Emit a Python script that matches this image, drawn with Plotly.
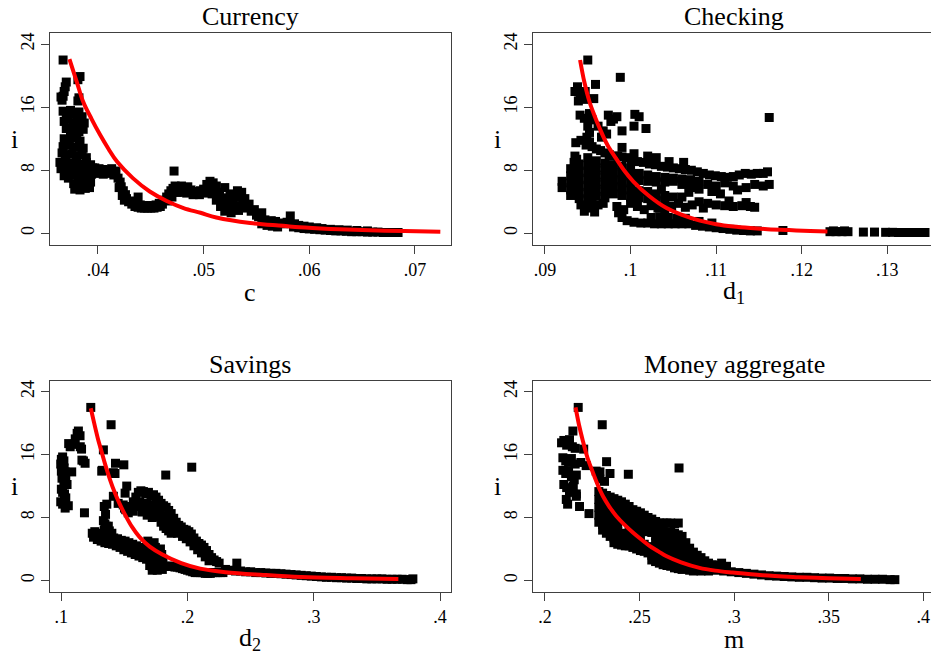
import plotly.graph_objects as go

# ---------------- data ----------------
# Currency panel: (c, i)
cur_pts = [
    (.0367,22.0),(.0383,19.9),(.0381,19.5),
    (.0370,19.2),(.0369,18.6),(.0368,18.0),(.0367,17.4),(.0366,16.9),(.0365,17.3),
    (.0381,16.8),(.0382,17.2),
    (.0367,15.5),(.0370,15.0),(.0374,15.6),(.0378,15.2),(.0382,15.4),(.0385,14.8),
    (.0368,14.2),(.0372,14.5),(.0376,14.0),(.0380,14.3),(.0384,13.8),(.0387,14.0),
    (.0370,13.3),(.0374,13.0),(.0378,13.5),(.0382,12.9),(.0386,13.2),(.0375,12.6),(.0380,12.4),
    (.0368,12.0),(.0373,11.8),(.0378,12.1),(.0383,11.7),
    (.0367,11.0),(.0372,11.2),(.0377,10.9),(.0382,11.1),(.0386,10.8),
    (.0366,10.2),(.0370,9.9),(.0375,10.1),(.0380,9.8),(.0385,10.0),(.0389,9.6),
    (.0364,9.0),(.0369,9.2),(.0374,8.9),(.0379,9.1),(.0384,8.8),(.0389,9.0),(.0393,8.7),
    (.0365,8.2),(.0369,8.5),(.0373,7.9),(.0378,8.1),(.0383,7.8),(.0387,8.2),(.0392,7.9),(.0395,8.3),
    (.0368,7.3),(.0372,7.0),(.0376,7.4),(.0381,7.1),(.0386,7.2),(.0391,7.0),(.0394,7.5),
    (.0377,6.3),(.0381,6.0),(.0385,6.4),(.0389,6.1),(.0393,6.5),
    (.0378,5.6),(.0383,5.5),(.0388,5.7),(.0392,5.8),
    (.0397,8.3),(.0401,8.2),(.0405,8.1),(.0409,8.0),(.0413,8.2),(.0417,7.9),(.0400,7.6),(.0405,7.5),(.0410,7.6),(.0415,7.4),
    (.0419,7.0),(.0421,6.5),(.0422,5.9),(.0424,5.4),(.0426,4.9),(.0427,4.4),(.0429,4.0),(.0423,4.8),(.0425,4.2),(.0420,5.8),
    (.0432,3.7),(.0435,3.4),(.0438,3.3),(.0441,3.2),(.0444,3.2),(.0447,3.2),(.0450,3.2),(.0453,3.2),(.0456,3.3),(.0459,3.4),
    (.0431,4.1),(.0434,3.9),(.0437,3.8),(.0440,3.6),(.0443,3.5),(.0446,3.5),(.0449,3.5),(.0452,3.5),(.0455,3.6),(.0458,3.8),(.0438,4.6),
    (.0461,3.7),(.0463,4.2),(.0465,4.6),(.0467,5.0),(.0469,5.4),(.0471,5.7),(.0472,7.9),(.0470,4.6),(.0466,4.1),(.0473,6.0),
    (.0476,5.8),(.0479,6.0),(.0482,5.7),(.0485,5.9),(.0488,5.5),(.0491,5.3),(.0494,5.2),(.0497,5.4),(.0500,5.6),
    (.0478,5.2),(.0484,5.1),(.0490,4.9),(.0496,4.9),(.0475,5.2),
    (.0503,6.2),(.0506,6.6),(.0509,6.4),(.0512,6.0),(.0504,5.6),(.0508,5.0),(.0511,5.4),(.0502,5.1),
    (.0515,5.2),(.0518,4.5),(.0520,5.8),(.0522,4.0),(.0524,3.3),(.0525,5.0),(.0528,4.2),(.0530,3.5),(.0532,5.4),
    (.0534,4.6),(.0536,5.2),(.0537,3.8),(.0539,4.4),(.0541,3.2),(.0520,2.8),(.0526,2.6),(.0533,2.9),(.0543,3.7),
    (.0545,2.8),(.0548,3.0),(.0550,2.3),(.0552,2.1),(.0555,2.6),(.0558,1.7),(.0561,1.3),(.0516,3.4),(.0512,4.2),
    (.0529,4.9),(.0535,3.3),
    (.0564,1.6),(.0568,1.5),(.0572,1.3),(.0576,1.2),(.0579,1.4),(.0555,1.2),(.0560,1.0),(.0565,0.9),(.0570,0.8),
    (.0582,2.2),(.0586,1.2),(.0590,1.0),
    (.0585,0.8),(.0590,0.7),(.0595,0.6),(.0600,0.55),(.0605,0.5),(.0610,0.45),(.0615,0.4),(.0620,0.35),(.0625,0.3),
    (.0630,0.3),(.0635,0.25),(.0640,0.2),(.0645,0.2),(.0650,0.2),(.0655,0.15),(.0660,0.15),(.0665,0.15),(.0670,0.1),
    (.0675,0.1),(.0680,0.1),(.0684,0.1),(.0595,0.9),(.0600,0.8),(.0607,0.7),(.0612,0.6),(.0620,0.5),(.0628,0.45),
    (.0636,0.4),(.0645,0.35),(.0655,0.3),
]
cur_fit_c = [.0373,.0380,.0386,.0394,.0402,.0410,.0418,.0433,.0449,.0465,.0481,.0497,.0512,.0544,.0575,.0591,.0620,.0650,.0690,.0724]
cur_fit_i = [22.1,19.2,16.7,14.5,12.5,10.7,9.1,7.0,5.3,4.1,3.2,2.6,2.0,1.3,0.95,0.76,0.55,0.4,0.28,0.2]

# Checking panel: (d1, i)
chk_pts = [
    (.0950,22.0),(.0988,19.8),(.0959,18.9),
    (.0935,18.0),(.0938,18.6),(.0941,17.5),(.0945,17.0),(.0939,16.8),(.0947,18.0),(.0957,17.1),
    (.0941,15.0),(.0946,14.6),(.0952,15.2),(.0955,14.4),
    (.0974,15.0),(.0980,14.5),(.0984,14.8),(.0977,14.2),
    (.1005,15.1),(.1010,14.8),(.1004,13.6),(.1018,13.3),
    (.0950,13.6),(.0952,12.8),(.0949,12.2),
    (.0936,11.5),(.0942,11.8),(.0948,11.2),(.0952,11.6),
    (.0935,9.8),(.0934,9.0),(.0937,9.4),
    (.0962,13.6),(.0968,13.0),(.0990,13.0),(.0966,12.2),(.0972,12.6),
    (.0955,11.0),(.0960,10.7),(.0965,10.5),(.0970,10.2),(.0975,10.0),(.0980,9.8),(.0985,9.8),(.0990,9.7),
    (.0995,9.6),(.1001,9.3),(.1008,9.1),(.1015,9.0),(.1022,8.8),(.1029,8.7),(.1036,8.5),(.1043,8.4),(.1050,8.3),
    (.1057,8.2),(.1064,8.1),(.1071,8.0),(.1078,7.8),(.1085,7.6),(.1092,7.4),(.1099,7.3),(.1106,7.2),(.1113,7.1),
    (.1120,7.2),(.1127,7.4),(.1134,7.6),(.1141,7.5),(.1148,7.6),(.1155,7.6),(.1160,7.8),(.1162,14.7),
    (.0990,10.9),(.1004,10.1),(.1020,9.8),(.1030,9.6),(.1045,9.1),(.1062,9.0),
    (.0920,6.6),(.0920,5.8),
    (.0930,8.2),(.0930,7.3),(.0930,6.4),(.0930,5.5),(.0930,4.8),
    (.0940,8.8),(.0940,7.9),(.0940,7.0),(.0940,6.1),(.0940,5.2),(.0940,4.4),
    (.0950,9.6),(.0950,8.6),(.0950,7.7),(.0950,6.8),(.0950,5.9),(.0950,5.0),(.0950,4.2),
    (.0960,9.2),(.0960,8.3),(.0960,7.4),(.0960,6.5),(.0960,5.6),(.0960,4.7),
    (.0970,8.9),(.0970,8.0),(.0970,7.1),(.0970,6.2),(.0970,5.3),(.0970,4.5),
    (.0980,8.7),(.0980,7.7),(.0980,6.8),(.0980,5.9),(.0980,5.0),
    (.0990,8.5),(.0990,7.5),(.0990,6.6),(.0990,5.7),(.0990,4.8),
    (.1000,8.3),(.1000,7.3),(.1000,6.4),(.1000,5.5),(.1000,4.6),
    (.1010,7.6),(.1010,6.7),(.1010,5.4),(.1010,4.5),
    (.1020,7.4),(.1030,7.2),(.1040,7.1),(.1050,7.0),(.1060,6.9),(.1070,6.8),
    (.1020,6.6),(.1030,6.5),(.1040,6.5),(.1050,6.6),(.1060,6.2),(.1070,6.0),
    (.1020,5.3),(.1030,5.0),(.1040,4.8),(.1020,4.4),(.1030,4.2),(.1040,4.0),
    (.1050,4.6),(.1060,4.6),(.1068,5.2),(.1070,5.8),(.1036,5.6),
    (.1080,6.6),(.1090,6.2),(.1100,6.0),(.1110,6.4),(.1120,6.0),(.1080,5.6),(.1095,5.3),(.1105,5.0),(.1125,5.5),
    (.1135,5.8),(.1145,6.2),(.1155,6.0),(.1162,6.2),
    (.1080,4.0),(.1090,3.8),(.1100,3.6),(.1110,3.5),(.1120,3.4),(.1130,3.5),(.1140,3.4),(.1085,3.2),(.1115,4.1),
    (.1135,3.9),(.1145,3.3),
    (.0942,3.6),(.0946,2.8),(.0952,3.2),(.0958,2.7),(.0962,3.6),(.0968,3.8),(.0955,3.9),
    (.1000,3.8),(.1008,3.4),(.1016,3.0),(.1024,3.5),(.1032,3.2),(.1040,3.0),(.1048,3.4),(.1056,3.8),(.1064,3.3),(.1072,3.6),
    (.0984,3.4),(.0986,2.6),(.0990,2.0),(.0996,1.6),(.1004,1.4),(.1012,1.3),(.0992,3.0),
    (.1020,1.3),(.1028,1.2),(.1036,1.2),(.1044,1.2),(.1052,1.2),(.1060,1.2),(.1068,1.2),(.1024,2.0),(.1034,2.1),
    (.1044,2.0),(.1054,1.9),(.1064,1.9),
    (.1076,1.0),(.1084,0.9),(.1092,0.8),(.1100,0.7),(.1108,0.6),(.1116,0.5),(.1080,1.5),(.1095,1.3),
    (.1124,0.4),(.1132,0.35),(.1140,0.3),(.1148,0.3),(.1178,0.35),
    (.1233,0.2),(.1240,0.2),(.1247,0.2),(.1254,0.2),(.1272,0.15),(.1285,0.15),(.1298,0.12),(.1306,0.12),
    (.1313,0.1),(.1321,0.1),(.1328,0.1),(.1336,0.1),(.1344,0.1),(.1237,0.3),(.1250,0.3),
]
chk_fit_d1 = [.0941,.0946,.0952,.0958,.0964,.0973,.0983,.0993,.1003,.1022,.1042,.1061,.1081,.1100,.1120,.1140,.1160,.1185,.1210,.1230]
chk_fit_i = [22.0,19.2,16.7,14.9,13.3,11.2,9.5,7.9,6.6,4.7,3.2,2.3,1.6,1.15,0.85,0.66,0.52,0.4,0.3,0.22]

# Savings panel: (d2, i)
sav_pts = [
    (.1233,22.0),(.1394,19.8),
    (.1135,19.0),(.1125,18.7),(.1148,18.4),(.1110,18.0),(.1090,17.3),(.1070,17.0),(.1058,17.4),(.1150,17.0),
    (.1160,16.7),(.1163,15.3),(.1188,14.9),(.1175,15.2),
    (.1000,15.4),(.1010,15.7),(.1020,15.2),(.0995,14.8),(.1008,14.5),(.1022,14.3),(.1000,13.9),(.1015,13.6),
    (.1030,13.8),(.1005,13.0),(.1020,12.7),(.1035,13.0),(.1045,12.2),(.1000,11.6),(.1010,11.2),(.1025,11.0),
    (.1035,10.5),(.0995,10.0),(.1010,9.7),(.1030,9.2),(.1055,9.5),(.1082,13.8),(.1183,8.6),
    (.1333,7.6),(.1345,7.2),(.1355,6.9),(.1340,9.4),(.1360,9.7),(.1350,8.4),
    (.1505,11.1),(.1425,13.6),(.1429,14.9),(.1495,14.7),(.1333,16.6),(.1325,14.0),(.2033,14.4),(.1827,13.4),
    (.1320,13.9),(.1412,13.7),(.1518,12.0),(.1412,10.7),(.1450,9.8),(.1500,9.2),(.1372,6.9),
    (.1245,6.0),(.1255,5.5),(.1265,6.2),(.1275,5.7),(.1285,5.2),(.1295,6.0),(.1305,5.5),(.1315,5.0),(.1325,5.8),
    (.1335,5.3),(.1345,4.8),(.1355,5.7),(.1365,5.2),(.1375,4.7),(.1385,5.6),(.1395,5.0),(.1405,4.6),(.1415,5.4),
    (.1425,4.9),(.1435,4.4),(.1445,5.3),(.1455,4.8),(.1465,4.2),(.1475,5.1),(.1485,4.5),(.1495,3.9),(.1340,6.4),
    (.1360,6.6),(.1380,6.3),(.1400,6.0),
    (.1505,5.0),(.1515,4.3),(.1525,3.7),(.1535,4.8),(.1545,4.1),(.1555,3.5),(.1565,4.6),(.1575,3.9),(.1585,3.3),
    (.1595,4.4),(.1605,3.7),(.1615,3.1),(.1625,4.2),(.1635,3.5),(.1645,2.9),(.1655,4.0),(.1665,3.3),(.1675,2.7),
    (.1685,5.0),(.1695,4.5),(.1705,3.9),(.1715,3.2),(.1725,2.6),(.1735,4.8),(.1745,4.2),(.1755,3.6),(.1765,3.0),
    (.1775,2.4),(.1785,4.0),(.1795,3.3),(.1805,2.7),
    (.1700,1.9),(.1720,1.8),(.1740,1.8),(.1760,1.8),(.1780,1.8),(.1800,1.8),(.1820,1.8),(.1840,1.8),(.1860,1.8),
    (.1880,1.8),(.1900,1.7),(.1920,1.7),(.1940,1.6),(.1960,1.5),(.1980,1.4),(.2000,1.3),(.2020,1.2),(.2040,1.1),
    (.2060,1.0),(.2080,1.0),(.2100,1.0),(.2120,1.0),(.2140,0.9),(.2160,0.9),(.2180,0.9),(.2200,1.0),(.2220,1.0),
    (.2240,1.0),(.2260,1.0),(.2280,1.0),(.1720,1.3),(.1760,1.3),(.1800,1.4),
    (.1490,9.6),(.1510,9.0),(.1530,8.6),(.1550,9.4),(.1570,10.0),(.1590,10.6),(.1610,11.2),(.1630,11.4),(.1650,11.3),
    (.1670,11.0),(.1690,11.2),(.1710,10.8),(.1730,10.9),(.1750,10.6),(.1770,10.2),(.1790,9.8),(.1810,9.5),
    (.1830,9.3),(.1850,8.9),(.1870,8.5),(.1890,7.9),(.1910,7.4),(.1930,7.0),(.1950,6.8),(.1970,6.5),(.1990,6.4),
    (.2010,6.2),(.2030,5.9),(.2050,5.4),(.2070,5.0),(.2090,4.7),(.2110,4.5),(.2130,4.2),(.2150,3.8),(.2170,3.3),
    (.2190,2.9),(.2210,2.6),(.2230,2.4),(.2250,2.2),(.2390,2.2),
    (.1620,10.0),(.1650,9.6),(.1680,9.8),(.1700,9.2),(.1720,9.6),(.1740,9.0),(.1760,9.3),(.1780,8.7),(.1800,8.2),
    (.1820,8.0),(.1840,7.6),(.1860,7.2),(.1880,6.8),(.1900,6.5),(.1920,6.0),(.1760,8.1),(.1790,7.4),(.1810,6.9),
    (.1830,6.6),(.1850,6.3),(.1870,6.0),(.1960,5.6),(.1990,5.3),(.2020,4.9),(.2050,4.4),(.2080,3.9),(.2110,3.5),
    (.2140,3.0),(.2170,2.5),(.1640,8.7),(.1680,8.3),(.1720,8.0),(.1600,9.4),(.1570,8.8),
    (.2300,1.4),(.2340,1.3),(.2380,1.2),(.2420,1.2),(.2460,1.1),(.2500,1.1),(.2540,1.0),(.2580,1.0),(.2620,0.95),
    (.2660,0.9),(.2700,0.9),(.2740,0.85),(.2780,0.8),(.2820,0.75),(.2860,0.7),(.2900,0.65),(.2940,0.6),(.2980,0.55),
    (.3020,0.5),(.3060,0.45),(.3100,0.4),(.3140,0.4),(.3180,0.35),(.3220,0.35),(.3260,0.3),(.3300,0.3),(.3340,0.25),
    (.3380,0.25),(.3420,0.2),(.3460,0.2),(.3500,0.2),(.3540,0.2),(.3580,0.15),(.3620,0.15),(.3660,0.15),(.3700,0.15),
    (.3740,0.1),(.3770,0.1),(.3785,0.2),
]
sav_fit_d2 = [.1233,.1260,.1290,.1320,.1350,.1386,.1420,.1460,.1500,.1560,.1620,.1700,.1800,.1950,.2100,.2300,.2600,.2900,.3300,.3670]
sav_fit_i = [21.9,20.0,18.0,16.3,14.6,12.8,11.3,9.8,8.5,6.8,5.5,4.3,3.3,2.2,1.5,1.05,0.7,0.43,0.28,0.18]

# Money aggregate panel: (m, i)
mon_pts = [
    (.2176,22.0),(.2303,19.8),(.2709,14.3),
    (.2148,19.0),(.2088,17.5),(.2100,17.8),(.2115,17.2),(.2130,17.9),(.2145,17.0),(.2160,16.8),(.2205,16.7),
    (.2095,15.6),(.2110,15.2),(.2125,15.0),(.2140,15.5),(.2160,14.8),(.2190,15.0),(.2218,14.6),
    (.2095,14.0),(.2110,13.6),(.2125,13.9),(.2140,13.2),(.2155,12.8),(.2166,13.4),
    (.2100,12.2),(.2115,11.8),(.2130,11.2),(.2150,12.0),(.2166,11.0),
    (.2113,10.3),(.2166,10.7),(.2183,9.4),(.2233,8.5),(.2120,9.7),
    (.2326,15.1),(.2344,13.6),(.2291,13.8),(.2441,13.5),(.2271,13.9),(.2290,12.9),(.2315,12.6),
    (.2285,11.3),(.2285,10.3),(.2285,9.3),(.2285,8.3),(.2285,7.4),
    (.2305,11.1),(.2305,10.1),(.2305,9.1),(.2305,8.1),(.2305,7.1),(.2305,6.4),
    (.2325,10.8),(.2325,9.8),(.2325,8.8),(.2325,7.8),(.2325,6.8),(.2325,6.0),
    (.2345,10.6),(.2345,9.6),(.2345,8.6),(.2345,7.6),(.2345,6.6),(.2345,5.6),
    (.2365,10.4),(.2365,9.4),(.2365,8.4),(.2365,7.4),(.2365,6.4),(.2365,5.4),(.2365,4.8),
    (.2385,10.2),(.2385,9.2),(.2385,8.2),(.2385,7.2),(.2385,6.2),(.2385,5.2),(.2385,4.6),
    (.2405,10.0),(.2405,9.0),(.2405,8.0),(.2405,6.0),(.2405,5.0),(.2405,4.5),
    (.2425,9.7),(.2425,8.7),(.2425,7.7),(.2425,5.9),(.2425,4.9),(.2425,4.4),
    (.2445,9.4),(.2445,8.4),(.2445,7.4),(.2445,6.4),(.2445,5.4),(.2445,4.4),
    (.2465,9.0),(.2465,8.0),(.2465,7.0),(.2465,6.0),(.2465,5.0),(.2465,4.2),
    (.2485,8.8),(.2485,7.8),(.2485,6.8),(.2485,5.8),(.2485,4.8),(.2485,4.0),
    (.2505,8.6),(.2505,7.6),(.2505,6.6),(.2505,5.6),(.2505,4.6),(.2505,3.8),
    (.2525,8.3),(.2525,7.3),(.2525,6.3),(.2525,4.6),(.2525,3.7),
    (.2545,8.0),(.2545,7.0),(.2545,6.2),(.2545,4.3),(.2545,3.5),
    (.2565,7.8),(.2565,6.9),(.2565,6.1),(.2565,4.2),(.2565,3.2),(.2565,2.6),
    (.2585,7.5),(.2585,6.6),(.2585,5.7),(.2585,4.8),(.2585,3.9),(.2585,3.0),(.2585,2.4),
    (.2605,7.3),(.2605,6.4),(.2605,5.5),(.2605,4.6),(.2605,3.7),(.2605,2.8),(.2605,2.2),
    (.2625,7.3),(.2625,6.3),(.2625,5.4),(.2625,4.5),(.2625,3.6),(.2625,2.7),(.2625,2.0),
    (.2645,7.3),(.2645,6.2),(.2645,5.2),(.2645,4.3),(.2645,3.4),(.2645,2.5),(.2645,1.9),
    (.2665,7.3),(.2665,6.1),(.2665,5.1),(.2665,4.1),(.2665,3.2),(.2665,2.4),(.2665,1.8),
    (.2685,7.2),(.2685,6.0),(.2685,4.9),(.2685,3.9),(.2685,3.0),(.2685,2.2),(.2685,1.6),
    (.2705,7.3),(.2705,5.8),(.2705,4.7),(.2705,3.7),(.2705,2.8),(.2705,2.0),(.2705,1.5),
    (.2725,5.6),(.2725,4.5),(.2725,3.5),(.2725,2.6),(.2725,1.9),(.2725,1.4),
    (.2745,4.8),(.2745,3.8),(.2745,2.9),(.2745,2.2),(.2745,1.5),
    (.2765,4.1),(.2765,3.3),(.2765,2.5),(.2765,1.8),(.2765,1.3),
    (.2785,3.6),(.2785,2.9),(.2785,2.2),(.2785,1.5),(.2785,1.2),
    (.2805,3.2),(.2805,2.5),(.2805,1.9),(.2805,1.3),
    (.2825,2.9),(.2825,2.2),(.2825,1.6),(.2825,1.2),
    (.2845,2.5),(.2845,1.9),(.2845,1.3),
    (.2865,2.2),(.2865,1.6),(.2865,1.2),
    (.2885,2.0),(.2885,1.4),(.2905,1.9),(.2905,1.3),(.2934,2.2),(.2960,1.8),
    (.2945,1.2),(.2985,1.1),(.3025,1.0),(.3065,0.9),(.3105,0.8),(.3145,0.7),(.3185,0.6),(.3225,0.55),
    (.3265,0.5),(.3305,0.45),(.3345,0.4),(.3385,0.4),(.3425,0.35),(.3465,0.3),(.3505,0.3),(.3545,0.25),(.3585,0.25),
    (.3625,0.2),(.3665,0.2),(.3705,0.15),(.3745,0.15),(.3785,0.15),(.3825,0.1),(.3850,0.1),
]
mon_fit_m = [.2162,.2180,.2199,.2225,.2254,.2280,.2307,.2340,.2377,.2420,.2465,.2510,.2553,.2600,.2641,.2720,.2817,.2900,.2993,.3150,.3339,.3500,.3670]
mon_fit_i = [22.0,19.8,17.9,15.6,13.7,12.1,10.7,9.4,8.2,7.1,6.1,5.2,4.4,3.7,3.1,2.3,1.6,1.25,1.0,0.65,0.42,0.28,0.17]

titles = ["Currency", "Checking", "Savings", "Money aggregate"]
xlabels = ["c", "d<sub>1</sub>", "d<sub>2</sub>", "m"]
ylabel = "i"
x_tickvals = [[.04, .05, .06, .07], [.09, .10, .11, .12, .13], [.1, .2, .3, .4], [.2, .25, .3, .35, .4]]
x_ticktext = [[".04", ".05", ".06", ".07"], [".09", ".1", ".11", ".12", ".13"], [".1", ".2", ".3", ".4"], [".2", ".25", ".3", ".35", ".4"]]
y_tickvals = [0, 8, 16, 24]
y_ticktext = ["0", "8", "16", "24"]

# ---------------- figure ----------------
W, H = 931, 654
FONT = "Liberation Serif"
FRAME = "#404040"

panels = [
    (cur_pts, cur_fit_c, cur_fit_i),
    (chk_pts, chk_fit_d1, chk_fit_i),
    (sav_pts, sav_fit_d2, sav_fit_i),
    (mon_pts, mon_fit_m, mon_fit_i),
]
# plot boxes in pixels: (left, right, top, bottom)
boxes = [(50, 451, 33, 245), (533, 931, 33, 245), (50, 451, 381, 592), (533, 931, 381, 592)]
x_ranges = [[.03546, .07341], [.0886, .1351], [.0910, .4087], [.1937, .4041]]
y_ranges = [[-1.49, 25.43], [-1.49, 25.43], [-1.47, 25.36], [-1.47, 25.36]]
title_cx = [250, 734, 250, 734]

fig = go.Figure()
layout = dict(
    width=W, height=H, paper_bgcolor="white", plot_bgcolor="white",
    margin=dict(l=0, r=0, t=0, b=0, autoexpand=False),
    showlegend=False, font=dict(family=FONT, color="black"),
    annotations=[],
)

for k, (pts, fx, fy) in enumerate(panels):
    n = "" if k == 0 else str(k + 1)
    xs = [p[0] for p in pts]
    ys = [p[1] for p in pts]
    fig.add_trace(go.Scatter(x=xs, y=ys, mode="markers", xaxis="x" + n, yaxis="y" + n,
                             marker=dict(symbol="square", size=9, color="black", line=dict(width=0))))
    fig.add_trace(go.Scatter(x=fx, y=fy, mode="lines", xaxis="x" + n, yaxis="y" + n,
                             line=dict(color="#ff0000", width=4, shape="spline")))
    l, r, t, b = boxes[k]
    right_col = k in (1, 3)
    layout["xaxis" + n] = dict(
        domain=[l / W, r / W], range=x_ranges[k], anchor="y" + n,
        showgrid=False, zeroline=False, showline=True, linecolor=FRAME, linewidth=1.3, mirror=True,
        ticks="outside", ticklen=8, tickwidth=1.3, tickcolor=FRAME,
        tickvals=x_tickvals[k], ticktext=x_ticktext[k],
        tickfont=dict(family=FONT, size=18, color="black"),
    )
    layout["yaxis" + n] = dict(
        domain=[1 - b / H, 1 - t / H], range=y_ranges[k], anchor="x" + n,
        showgrid=False, zeroline=False, showline=True, linecolor=FRAME, linewidth=1.3,
        mirror=(not right_col),
        ticks="outside", ticklen=8, tickwidth=1.3, tickcolor=FRAME,
        tickvals=y_tickvals, ticktext=y_ticktext, tickangle=-90,
        tickfont=dict(family=FONT, size=18, color="black"),
    )
    # panel title
    layout["annotations"].append(dict(text=titles[k], x=title_cx[k] / W, y=1 - (t - 17) / H,
                                      xref="paper", yref="paper", showarrow=False, xanchor="center", yanchor="middle",
                                      font=dict(family=FONT, size=26, color="black")))
    # x title
    layout["annotations"].append(dict(text=xlabels[k], x=title_cx[k] / W, y=1 - (b + 47) / H,
                                      xref="paper", yref="paper", showarrow=False, xanchor="center", yanchor="middle",
                                      font=dict(family=FONT, size=26, color="black")))
    # y title
    layout["annotations"].append(dict(text=ylabel, x=(l - 36) / W, y=1 - ((t + b) / 2) / H,
                                      xref="paper", yref="paper", showarrow=False, xanchor="center", yanchor="middle",
                                      font=dict(family=FONT, size=26, color="black")))

fig.update_layout(**layout)
fig.write_html("out.html", config={"displayModeBar": False},
               post_script="document.body.style.margin='0';document.body.style.overflow='hidden';")
